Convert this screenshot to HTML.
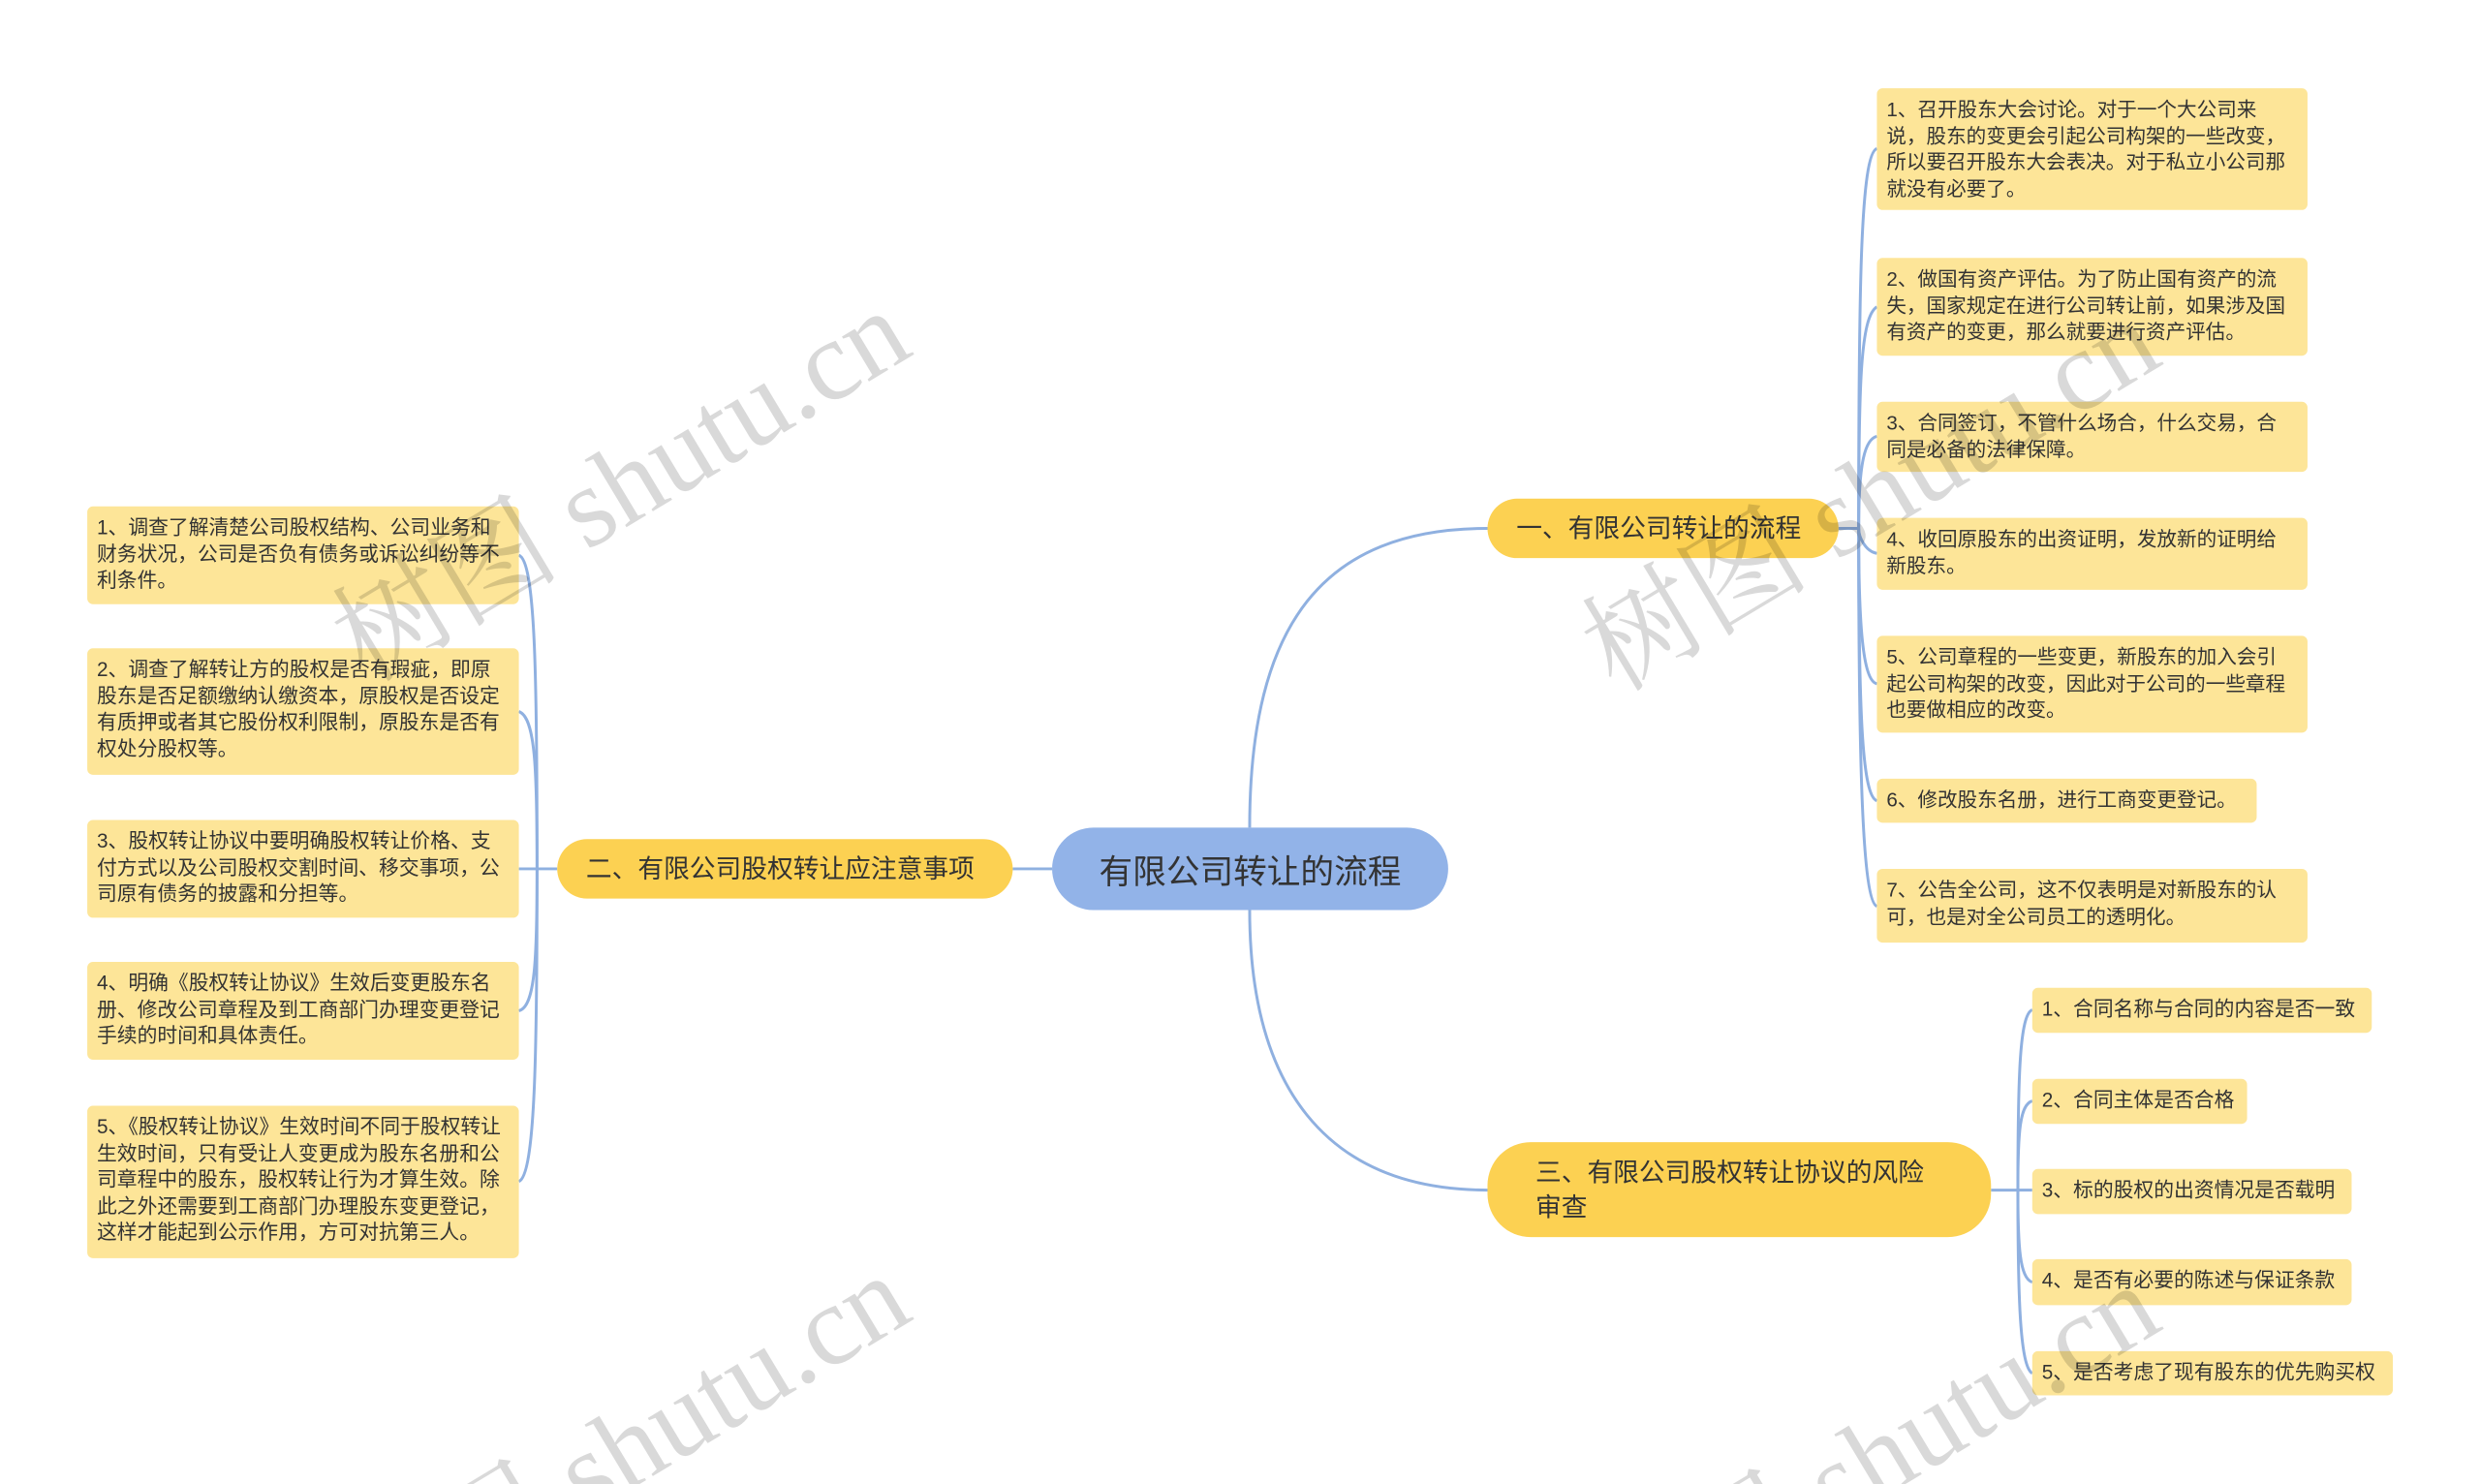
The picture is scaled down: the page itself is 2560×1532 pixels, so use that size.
<!DOCTYPE html>
<html><head><meta charset="utf-8"><style>
html,body{margin:0;padding:0;}
body{width:2560px;height:1532px;background:#fff;overflow:hidden;font-family:"Liberation Sans","Noto Sans CJK SC",sans-serif;}
#page{position:relative;width:2560px;height:1532px;overflow:hidden;}
#inner{position:absolute;left:0;top:0;width:2560px;height:1532px;transform:scale(0.99);transform-origin:0 0;}
.n{position:absolute;box-sizing:border-box;color:#333;}
.leaf{background:#fde598;border-radius:6px;font-size:21px;line-height:27.5px;padding:9px 10px;word-break:break-all;}
.leaf.r{padding:9px 16px 9px 10px;font-size:20.8px;}
.br{background:#fcd152;border-radius:31px;font-size:27px;display:flex;align-items:center;padding:0 30px;line-height:36px;}
.root{background:#92b3e8;border-radius:43px;font-size:35px;display:flex;align-items:center;justify-content:center;}
svg{position:absolute;left:0;top:0;}
.wm{position:absolute;font-family:"Liberation Serif","Noto Serif CJK SC",serif;font-size:118px;color:rgba(0,0,0,0.15);transform:rotate(-31deg);transform-origin:left bottom;white-space:nowrap;line-height:1;}
</style></head><body><div id="page"><div id="inner">
<svg width="2560" height="1532" fill="none" stroke="#8fb0e0" stroke-width="3">
<path d="M1303 863 C1303 650 1380 551 1551 551"/>
<path d="M1303 949 C1303 1130 1380 1241 1551 1241"/>
<path d="M1097 906 L1056 906"/>
<path d="M1917 551 L1938 551"/>
<path d="M1938 551 C1938 300 1940 160 1957 155"/>
<path d="M1938 551 C1938 400 1940 330 1957 320"/>
<path d="M1938 551 C1938 480 1945 458 1957 455"/>
<path d="M1938 551 C1938 560 1945 575 1957 577"/>
<path d="M1938 551 C1938 650 1942 710 1957 713"/>
<path d="M1938 551 C1938 750 1942 830 1957 835"/>
<path d="M1938 551 C1938 800 1942 940 1957 945"/>
<path d="M581 906 L560 906"/>
<path d="M560 906 C560 700 558 585 541 579"/>
<path d="M560 906 C560 800 558 748 541 742"/>
<path d="M560 906 L541 906"/>
<path d="M560 906 C560 1000 558 1050 541 1054"/>
<path d="M560 906 C560 1100 558 1225 541 1232"/>
<path d="M2076 1241 L2104 1241"/>
<path d="M2104 1241 C2104 1120 2106 1058 2119 1053"/>
<path d="M2104 1241 C2104 1180 2106 1152 2119 1148"/>
<path d="M2104 1241 L2119 1241"/>
<path d="M2104 1241 C2104 1300 2106 1333 2119 1337"/>
<path d="M2104 1241 C2104 1350 2106 1425 2119 1432"/>
</svg>
<div class="n root" style="left:1097px;top:863px;width:413px;height:86px;">有限公司转让的流程</div>
<div class="n br" style="left:1551px;top:520px;width:366px;height:62px;">一、有限公司转让的流程</div>
<div class="n br" style="left:581px;top:875px;width:475px;height:62px;">二、有限公司股权转让应注意事项</div>
<div class="n br" style="left:1551px;top:1191px;width:525px;height:99px;border-radius:45px;padding:0 60px 0 50px;">三、有限公司股权转让协议的风险审查</div>

<div class="n leaf r" style="left:1957px;top:92px;width:449px;height:127px;">1、召开股东大会讨论。对于一个大公司来说，股东的变更会引起公司构架的一些改变，所以要召开股东大会表决。对于私立小公司那就没有必要了。</div>
<div class="n leaf r" style="left:1957px;top:269px;width:449px;height:102px;">2、做国有资产评估。为了防止国有资产的流失，国家规定在进行公司转让前，如果涉及国有资产的变更，那么就要进行资产评估。</div>
<div class="n leaf r" style="left:1957px;top:419px;width:449px;height:73px;">3、合同签订，不管什么场合，什么交易，合同是必备的法律保障。</div>
<div class="n leaf r" style="left:1957px;top:540px;width:449px;height:75px;">4、收回原股东的出资证明，发放新的证明给新股东。</div>
<div class="n leaf r" style="left:1957px;top:663px;width:449px;height:101px;">5、公司章程的一些变更，新股东的加入会引起公司构架的改变，因此对于公司的一些章程也要做相应的改变。</div>
<div class="n leaf r" style="left:1957px;top:812px;width:396px;height:46px;">6、修改股东名册，进行工商变更登记。</div>
<div class="n leaf r" style="left:1957px;top:906px;width:449px;height:77px;">7、公告全公司，这不仅表明是对新股东的认可，也是对全公司员工的透明化。</div>

<div class="n leaf" style="left:2119px;top:1030px;width:354px;height:47px;">1、合同名称与合同的内容是否一致</div>
<div class="n leaf" style="left:2119px;top:1125px;width:224px;height:47px;">2、合同主体是否合格</div>
<div class="n leaf" style="left:2119px;top:1219px;width:333px;height:47px;">3、标的股权的出资情况是否载明</div>
<div class="n leaf" style="left:2119px;top:1313px;width:333px;height:48px;">4、是否有必要的陈述与保证条款</div>
<div class="n leaf" style="left:2119px;top:1409px;width:376px;height:46px;">5、是否考虑了现有股东的优先购买权</div>

<div class="n leaf" style="left:91px;top:528px;width:450px;height:102px;">1、调查了解清楚公司股权结构、公司业务和财务状况，公司是否负有债务或诉讼纠纷等不利条件。</div>
<div class="n leaf" style="left:91px;top:676px;width:450px;height:132px;">2、调查了解转让方的股权是否有瑕疵，即原股东是否足额缴纳认缴资本，原股权是否设定有质押或者其它股份权利限制，原股东是否有权处分股权等。</div>
<div class="n leaf" style="left:91px;top:855px;width:450px;height:102px;">3、股权转让协议中要明确股权转让价格、支付方式以及公司股权交割时间、移交事项，公司原有债务的披露和分担等。</div>
<div class="n leaf" style="left:91px;top:1003px;width:450px;height:102px;">4、明确《股权转让协议》生效后变更股东名册、修改公司章程及到工商部门办理变更登记手续的时间和具体责任。</div>
<div class="n leaf" style="left:91px;top:1153px;width:450px;height:159px;">5、《股权转让协议》生效时间不同于股权转让生效时间，只有受让人变更成为股东名册和公司章程中的股东，股权转让行为才算生效。除此之外还需要到工商部门办理股东变更登记，这样才能起到公示作用，方可对抗第三人。</div>
</div>
<div class="wm" style="left:388px;top:605px;">树图 shutu.cn</div>
<div class="wm" style="left:1678px;top:615px;">树图 shutu.cn</div>
<div class="wm" style="left:388px;top:1601px;">树图 shutu.cn</div>
<div class="wm" style="left:1678px;top:1611px;">树图 shutu.cn</div>
</div></body></html>
